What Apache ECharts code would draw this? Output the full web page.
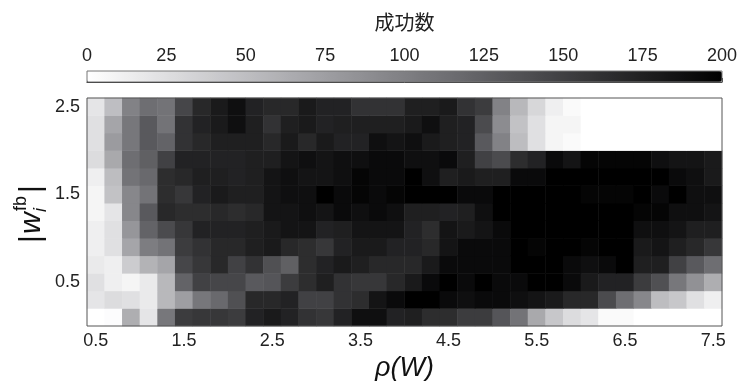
<!DOCTYPE html>
<html>
<head>
<meta charset="utf-8">
<script src="https://cdn.jsdelivr.net/npm/echarts@6/dist/echarts.min.js"></script>
<style>
html,body{margin:0;padding:0;background:#ffffff;}
#c{width:739px;height:381px;}
</style>
</head>
<body>
<div id="c"></div>
<script>
// x categories: rho(W)
const xValues = ['0.5','0.7','0.9','1.1','1.3','1.5','1.7','1.9','2.1','2.3','2.5','2.7','2.9','3.1','3.3','3.5','3.7','3.9',
                 '4.1','4.3','4.5','4.7','4.9','5.1','5.3','5.5','5.7','5.9','6.1','6.3','6.5','6.7','6.9','7.1','7.3','7.5'];
// y categories: |w_i^fb|
const yValues = ['0.1','0.3','0.5','0.7','0.9','1.1','1.3','1.5','1.7','1.9','2.1','2.3','2.5'];
// colorbar range / ticks
const colorMin = 0;
const colorMax = 200;
const colorTickStep = 25;

// success counts, one row per y value (bottom row first), 36 columns each
const row01 = [0,2,63,20,106,153,157,157,153, 173,180,173,161,157,173,188,188,173, 176,165,165,153,153,133,110,67,43, 27,20,4,4,0,0,0,0,0];
const row03 = [20,27,24,16,55,75,106,118,137, 169,169,173,149,149,161,165,184,192, 200,200,192,188,192,192,188,184,180, 169,169,141,114,94,51,43,24,12];
const row05 = [24,12,8,16,55,122,149,145,145, 130,133,153,165,176,161,157,157,169, 180,192,200,192,200,192,192,200,200, 192,180,173,173,153,137,106,86,63];
const row07 = [16,12,39,59,70,145,157,169,149, 161,137,125,165,173,180,176,169,169, 169,180,192,192,192,192,200,200,200, 192,188,192,200,176,176,149,130,114];
const row09 = [12,24,70,102,110,153,161,169,169, 176,180,169,165,157,173,180,180,173, 173,169,184,192,192,192,200,196,200, 200,196,200,200,180,184,176,169,157];
const row11 = [12,24,82,122,141,157,173,173,173, 176,180,184,184,173,176,184,184,184, 173,165,184,180,184,192,200,200,200, 200,200,200,200,188,188,184,176,176];
const row13 = [8,20,94,130,169,165,165,169,165, 169,184,184,188,184,192,188,192,188, 176,176,173,176,188,200,200,200,200, 200,200,200,200,196,196,188,188,184];
const row15 = [8,47,94,110,165,157,173,180,176, 176,184,188,188,200,192,196,192,196, 200,200,200,192,192,200,200,200,200, 200,196,196,196,200,192,200,188,188];
const row17 = [12,51,110,118,165,169,176,176,173, 176,184,188,184,184,188,196,192,192, 200,188,176,180,176,176,192,192,200, 200,200,200,200,200,200,192,188,180];
const row19 = [27,67,114,125,149,173,173,173,173, 176,176,184,188,184,188,188,192,192, 188,188,192,176,149,141,165,173,192, 184,196,196,196,196,188,184,184,180];
const row21 = [24,78,106,130,122,161,169,176,176, 176,169,180,169,180,173,173,188,184, 188,180,176,173,130,98,51,24,8, 4,0,0,0,0,0,0,0,0];
const row23 = [24,70,106,130,110,161,173,180,188, 176,161,176,180,173,176,176,176,176, 180,188,176,173,141,90,47,24,8, 8,0,0,0,0,0,0,0,0];
const row25 = [20,50,98,114,110,145,169,180,188, 173,169,169,180,173,173,161,161,161, 176,176,180,161,153,98,55,31,12, 4,0,0,0,0,0,0,0,0];

const rows = [row01,row03,row05,row07,row09,row11,row13,row15,row17,row19,row21,row23,row25];

const heatData = [];
rows.forEach(function (row, yi) {
  row.forEach(function (v, xi) { heatData.push([xi, yi, v]); });
});

const chart = echarts.init(document.getElementById('c'), null, {renderer: 'canvas'});
const FONT = 'Liberation Sans';

const option = {
  animation: false,
  backgroundColor: '#ffffff',
  textStyle: {fontFamily: FONT},
  grid: [
    {left: 87, top: 98, width: 635, height: 228, show: true, borderColor: '#555555', borderWidth: 1, backgroundColor: 'transparent', z: 5, containLabel: false, outerBoundsMode: 'none'},
    {left: 87, top: 71, width: 635, height: 11, show: true, borderColor: '#777777', borderWidth: 1, backgroundColor: 'transparent', z: 5, containLabel: false, outerBoundsMode: 'none'}
  ],
  xAxis: [
    {
      type: 'category', gridIndex: 0, data: xValues,
      axisLine: {show: false}, axisTick: {show: false}, splitLine: {show: false},
      axisLabel: {interval: 4, fontSize: 18, color: '#222222', margin: 6, fontFamily: FONT},
      name: 'ρ(W)', nameLocation: 'middle', nameGap: 25,
      nameTextStyle: {fontSize: 27, fontStyle: 'italic', color: '#111111', fontFamily: FONT}
    },
    {
      type: 'value', gridIndex: 1, min: colorMin, max: colorMax, interval: colorTickStep, position: 'top',
      axisLine: {show: true, lineStyle: {color: '#222222', width: 1}},
      axisTick: {show: true, inside: false, length: 4, lineStyle: {color: '#333333'}},
      splitLine: {show: false},
      axisLabel: {fontSize: 18, color: '#222222', margin: 6, fontFamily: FONT},
      name: '成功数', nameLocation: 'middle', nameGap: 39,
      nameTextStyle: {fontSize: 20, color: '#222222', fontFamily: 'Noto Sans CJK JP'}
    }
  ],
  yAxis: [
    {
      type: 'category', gridIndex: 0, data: yValues,
      axisLine: {show: false}, axisTick: {show: false}, splitLine: {show: false},
      axisLabel: {interval: function (idx) { return idx % 5 === 2; }, fontSize: 18, color: '#222222', margin: 7, fontFamily: FONT}
    },
    {type: 'value', gridIndex: 1, show: false, min: 0, max: 1}
  ],
  visualMap: {
    type: 'continuous', min: colorMin, max: colorMax, seriesIndex: 0,
    orient: 'horizontal', left: 87, top: 71, itemWidth: 11, itemHeight: 635,
    calculable: false, padding: 0, text: null, hoverLink: false,
    inRange: {color: ['#ffffff', '#cbcbce', '#98989c', '#66666a', '#333335', '#000000']},
    textStyle: {color: 'transparent'}
  },
  graphic: [
    {
      type: 'group', x: 32, y: 212, rotation: Math.PI / 2,
      children: [
        {type: 'text', x: -31, y: 0, style: {text: '|', fontSize: 30, fontFamily: FONT, fill: '#111111', verticalAlign: 'middle', align: 'left'}},
        {type: 'text', x: -22, y: 0, style: {text: 'w', fontSize: 30, fontStyle: 'italic', fontFamily: FONT, fill: '#111111', verticalAlign: 'middle', align: 'left'}},
        {type: 'text', x: 0, y: 9, style: {text: 'i', fontSize: 18, fontStyle: 'italic', fontFamily: FONT, fill: '#111111', verticalAlign: 'middle', align: 'left'}},
        {type: 'text', x: 1, y: -11, style: {text: 'fb', fontSize: 18, fontFamily: FONT, fill: '#111111', verticalAlign: 'middle', align: 'left'}},
        {type: 'text', x: 19, y: 0, style: {text: '|', fontSize: 30, fontFamily: FONT, fill: '#111111', verticalAlign: 'middle', align: 'left'}}
      ]
    }
  ],
  series: [
    {
      type: 'heatmap', xAxisIndex: 0, yAxisIndex: 0, data: heatData,
      itemStyle: {borderWidth: 0}, emphasis: {disabled: true}, progressive: 0
    }
  ]
};
chart.setOption(option);
</script>
</body>
</html>
